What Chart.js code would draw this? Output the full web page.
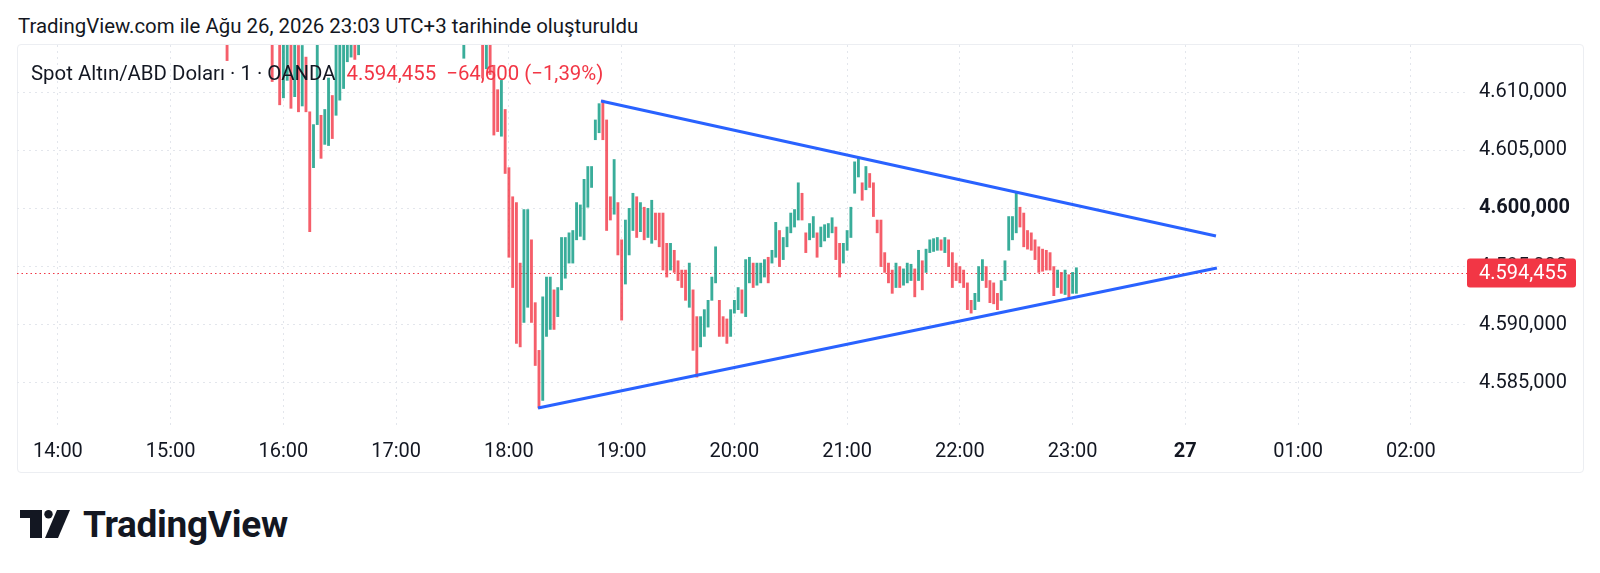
<!DOCTYPE html>
<html><head><meta charset="utf-8">
<script src="https://cdn.jsdelivr.net/npm/chart.js@4"></script>
<style>
html,body{margin:0;padding:0;background:#fff;width:1600px;height:573px;overflow:hidden;font-family:Roboto,"Noto Sans",sans-serif;color:#131722}
#title{position:absolute;left:18px;top:14px;font-size:20.4px;line-height:24px;white-space:nowrap}
#panel{position:absolute;left:17px;top:44px;width:1567px;height:429px;border:1px solid #eceef2;border-radius:4px;box-sizing:border-box}
#wrap{position:absolute;left:17px;top:45px;width:1566px;height:427px}
#legend{position:absolute;left:31px;top:60px;font-size:20.4px;line-height:26px;white-space:nowrap}
#legend .v{color:#F23645;margin-left:11px}
#logo{position:absolute;left:20px;top:505px;height:38px;display:flex;align-items:center}
#logo span{font-size:37px;font-weight:700;margin-left:13px;letter-spacing:-0.3px;color:#131722}
</style></head>
<body>
<div id="title">TradingView.com ile Ağu 26, 2026 23:03 UTC+3 tarihinde oluşturuldu</div>
<div id="panel"></div>
<div id="wrap"><canvas id="c" width="1566" height="427"></canvas></div>
<div id="legend">Spot Altın/ABD Doları · 1 · OANDA<span class="v">4.594,455&nbsp;&nbsp;−64,600 (−1,39%)</span></div>
<div id="logo"><svg width="50" height="28" viewBox="0 0 50 28"><rect x="0" y="0" width="22" height="8" fill="#131722"/><rect x="10" y="0" width="12" height="28" fill="#131722"/><circle cx="28.5" cy="4.2" r="4.2" fill="#131722"/><polygon points="37,0 50,0 38,28 25,28" fill="#131722"/></svg><span>TradingView</span></div>
<script>
// ---- data (minutes after 14:00, 2-minute bars) ----
const barStart = 90;
const barStep = 2;
const lows = [
4612.7,null,null,null,null,null,null,null,null,null,null,null,4610.9,null,4608.9,4609.5,4611.0,4608.6,4609.6,4608.3,
4608.8,4608.3,4598.0,4603.5,4607.2,4604.3,4605.5,4605.4,4606.0,4608.0,4609.3,4610.3,4612.6,4613.0,4612.8,4613.2,
null,null,null,null,null,null,null,null,null,null,null,null,null,null,null,null,null,null,null,null,null,null,null,null,null,null,null,
4612.9,null,null,null,null,4611.2,4612.0,4611.5,4606.3,4606.6,4606.2,4603.0,
4595.8,4593.2,4588.4,4588.1,4590.2,4591.5,4590.2,4586.5,4582.85,4583.5,4589.0,4589.6,4589.6,4590.7,4593.0,4594.0,4595.3,4595.3,4597.3,4597.6,
4597.3,4600.1,4601.8,4605.9,4606.5,4605.9,4598.1,4599.0,4599.5,4596.0,4590.4,4593.5,4596.0,4598.1,4597.5,4598.0,4597.3,4597.5,4597.0,4597.3,
4596.7,4594.7,4594.1,4594.7,4594.5,4593.8,4593.2,4592.1,4591.5,4587.8,4585.5,4588.1,4589.0,4589.8,4592.1,4593.6,4589.0,4589.0,4588.4,4589.0,
4591.0,4591.3,4591.0,4590.7,4593.6,4593.2,4593.4,4593.6,4594.1,4593.6,4595.3,4595.8,4595.0,4595.6,4596.7,4597.9,4598.4,4599.0,4599.0,4596.2,
4597.3,4597.5,4595.8,4596.7,4597.2,4597.5,4597.9,4595.6,4594.1,4595.3,4596.4,4597.5,4601.3,4602.7,4600.7,4601.6,4601.8,4599.3,4597.9,4595.0,
4594.5,4593.6,4592.7,4593.2,4593.2,4593.4,4593.6,4593.8,4592.4,4593.8,4593.0,4594.5,4596.2,4596.3,4596.4,4596.4,4596.2,4595.0,4593.2,4593.8,
4593.6,4593.2,4591.3,4591.0,4591.3,4592.0,4593.8,4593.2,4591.9,4591.8,4591.3,4592.1,4593.8,4596.4,4597.3,4597.9,4598.4,4596.7,4596.5,4596.4,
4595.6,4594.5,4594.6,4594.7,4594.7,4592.5,4593.2,4592.7,4592.6,4592.3,4592.7,4592.7
];
const highs = [
4616,null,null,null,null,null,null,null,null,null,null,null,4616,null,4615,4615,4615,4614.5,4615,4614,
4614,4613,4608.3,4607.2,4614.5,4608.0,4608.5,4611.2,4609.7,4614.5,4615,4615,4616,4616,4616,4616,
null,null,null,null,null,null,null,null,null,null,null,null,null,null,null,null,null,null,null,null,null,null,null,null,null,null,null,
4617,null,null,null,null,4616,4616,4615,4612.3,4610.2,4611,4608.5,
4603.5,4601.0,4600.5,4595.3,4599.9,4599.9,4597.3,4591.9,4587.8,4592.4,4594.1,4594.1,4593.0,4593.2,4597.5,4597.5,4597.9,4598.1,4600.5,4600.3,
4602.5,4603.6,4603.6,4607.6,4609.0,4609.3,4607.6,4601.0,4604.2,4600.5,4597.3,4599.0,4600.0,4601.3,4601.0,4600.5,4600.1,4600.0,4600.7,4599.6,
4599.6,4599.6,4597.0,4597.0,4596.4,4595.5,4594.7,4594.7,4595.3,4593.0,4590.7,4590.7,4591.3,4592.1,4594.1,4596.7,4592.1,4590.7,4590.5,4591.3,
4592.1,4593.2,4593.0,4595.6,4595.8,4595.3,4595.3,4595.3,4595.6,4595.8,4596.4,4598.8,4598.1,4597.5,4598.4,4599.6,4599.9,4602.2,4601.3,4597.9,
4598.7,4599.3,4597.9,4598.4,4598.6,4598.7,4599.2,4598.4,4597.0,4597.0,4598.1,4600.1,4604.0,4604.4,4602.2,4603.6,4603.0,4602.2,4599.0,4599.0,
4596.2,4595.3,4594.7,4595.3,4595.0,4594.8,4595.3,4595.2,4594.8,4596.4,4595.5,4596.5,4597.3,4597.4,4597.5,4597.3,4597.5,4597.3,4596.2,4595.3,
4595.0,4594.7,4593.6,4592.1,4592.7,4595.0,4595.6,4595.0,4593.8,4593.6,4592.7,4593.8,4595.5,4599.3,4599.3,4601.4,4600.1,4599.6,4598.1,4597.9,
4597.3,4596.7,4596.5,4596.4,4596.2,4595.0,4594.7,4594.5,4594.7,4594.3,4594.5,4594.9
];
const lastPrice = 4594.455;
const lastPriceLabel = '4.594,455';
const upperTrend = [[289.0, 4609.23], [616.3, 4597.63]];
const lowerTrend = [[255.5, 4582.85], [616.8, 4594.88]];
const xTickMinutes = [0,60,120,180,240,300,360,420,480,540,600,660,720];
const xTickLabels = ['14:00','15:00','16:00','17:00','18:00','19:00','20:00','21:00','22:00','23:00','27','01:00','02:00'];
const xBoldTicks = ['27'];
const yTickValues = [4585,4590,4595,4600,4605,4610];
const yTickLabels = ['4.585,000','4.590,000','4.595,000','4.600,000','4.605,000','4.610,000'];
const yBoldTicks = [4600];
const xRange = [-21.8, 749.9];
const yRange = [4581.13, 4614.04];

// ---- build ----
const UP = 'rgba(8,153,129,0.8)', DOWN = 'rgba(242,54,69,0.8)';
const barData = [], barColors = [];
let prevMid = null;
lows.forEach((lo, i) => {
  const hi = highs[i];
  if (lo == null || hi == null) return;
  const mid = (lo + hi) / 2;
  barData.push({x: barStart + i * barStep, y: [lo, hi]});
  barColors.push(prevMid == null || mid < prevMid ? DOWN : UP);
  prevMid = mid;
});

const priceLine = {
  id: 'priceLine',
  beforeDatasetsDraw(chart) {
    const {ctx, chartArea: a, scales: {y}} = chart;
    const py = Math.round(y.getPixelForValue(lastPrice)) + 0.5;
    ctx.save();
    ctx.strokeStyle = '#F23645'; ctx.lineWidth = 1; ctx.setLineDash([1.5, 3]);
    ctx.beginPath(); ctx.moveTo(a.left, py); ctx.lineTo(a.right, py); ctx.stroke();
    ctx.restore();
  },
  afterDraw(chart) {
    const {ctx, chartArea: a, scales: {y}} = chart;
    const py = y.getPixelForValue(lastPrice);
    const x0 = a.right, w = 109, h = 29;
    ctx.save();
    ctx.fillStyle = '#F23645';
    ctx.beginPath();
    if (ctx.roundRect) ctx.roundRect(x0, py - h / 2, w, h, 3); else ctx.rect(x0, py - h / 2, w, h);
    ctx.fill();
    ctx.fillStyle = '#ffffff';
    ctx.font = '20px Roboto';
    ctx.textBaseline = 'middle';
    ctx.textAlign = 'left';
    ctx.fillText(lastPriceLabel, x0 + 12, py + 1);
    ctx.restore();
  }
};

new Chart(document.getElementById('c'), {
  data: {
    datasets: [
      {type: 'line', data: upperTrend.map(p => ({x: p[0], y: p[1]})), borderColor: '#2962FF', borderWidth: 3, pointRadius: 0, order: 0},
      {type: 'line', data: lowerTrend.map(p => ({x: p[0], y: p[1]})), borderColor: '#2962FF', borderWidth: 3, pointRadius: 0, order: 0},
      {type: 'bar', data: barData, backgroundColor: barColors, barThickness: 2.2, grouped: false, borderWidth: 0, order: 1}
    ]
  },
  options: {
    responsive: false, animation: false,
    layout: {padding: 0, autoPadding: false},
    plugins: {legend: {display: false}, tooltip: {enabled: false}},
    scales: {
      x: {
        type: 'linear', min: xRange[0], max: xRange[1], offset: false,
        afterBuildTicks: s => { s.ticks = xTickMinutes.map(v => ({value: v})); },
        afterFit: s => { s.height = 44; s.paddingLeft = 0; s.paddingRight = 0; s.paddingTop = 0; s.paddingBottom = 0; },
        grid: {color: '#e3e6ec', drawTicks: false, lineWidth: 1, offset: false},
        border: {display: false, dash: [2, 4]},
        ticks: {
          padding: 12, color: '#131722', maxRotation: 0, autoSkip: false,
          callback: v => xTickLabels[xTickMinutes.indexOf(v)],
          font: ctx => ({family: 'Roboto', size: 20, weight: xBoldTicks.includes(xTickLabels[xTickMinutes.indexOf(ctx.tick && ctx.tick.value)]) ? 'bold' : 'normal'})
        }
      },
      y: {
        position: 'right', min: yRange[0], max: yRange[1],
        afterBuildTicks: s => { s.ticks = yTickValues.map(v => ({value: v})); },
        afterFit: s => { s.width = 116; s.paddingTop = 0; s.paddingBottom = 0; s.paddingLeft = 0; s.paddingRight = 0; },
        grid: {color: '#e3e6ec', drawTicks: false, lineWidth: 1},
        border: {display: false, dash: [2, 4]},
        ticks: {
          padding: 12, color: '#131722',
          callback: v => yTickLabels[yTickValues.indexOf(v)],
          font: ctx => ({family: 'Roboto', size: 20, weight: yBoldTicks.includes(ctx.tick && ctx.tick.value) ? 'bold' : 'normal'})
        }
      }
    }
  },
  plugins: [priceLine]
});
</script>
</body></html>
